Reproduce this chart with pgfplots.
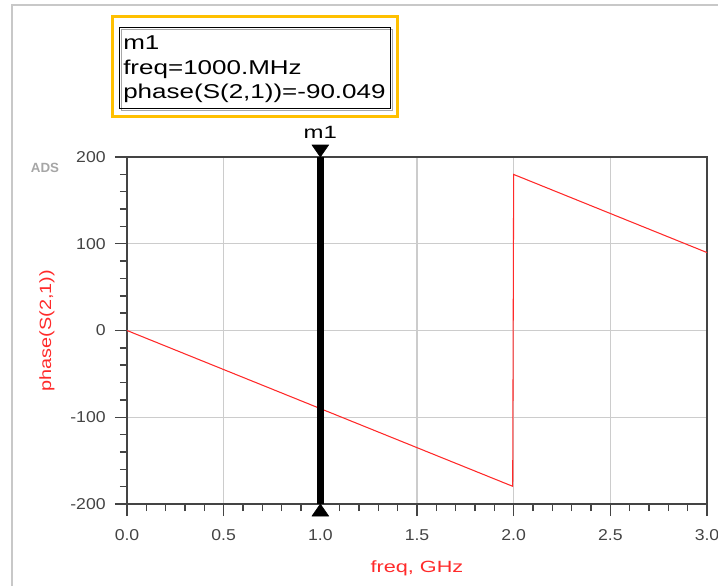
\documentclass[border=0pt]{standalone}
\usepackage{fontspec}
\setmainfont{Liberation Sans}
\usepackage{graphicx}
\usepackage{pgfplots}
\pgfplotsset{compat=1.18}
\definecolor{tickgray}{HTML}{444444}
\definecolor{gridgray}{HTML}{CCCCCC}
\definecolor{adsred}{HTML}{FF2A2A}
\definecolor{boxorange}{HTML}{FFC000}
\definecolor{framegray}{HTML}{C8C8C8}
\newcommand\tl[1]{\scalebox{1.12}[1]{#1}}
\newcommand\sx[1]{\scalebox{1.3}[1]{#1}}
\begin{document}
\begin{tikzpicture}[x=0.75pt,y=0.75pt]
\path[use as bounding box] (0,0) rectangle (718,586);
\draw[framegray, line width=1pt] (12,0) -- (12,581) -- (718,581);
% marker box
\draw[boxorange, line width=2.25pt] (112.7,569.3) rectangle (397.7,469.3);
\draw[gray!70, line width=0.75pt] (121.3,556.7) rectangle (392.7,475.3);
\draw[black, line width=0.8pt] (119.3,558.7) rectangle (390.7,477.3);
\node[anchor=base west, inner sep=0pt, font=\fontsize{15}{18}\selectfont] at (123,536) {\sx{m1}};
\node[anchor=base west, inner sep=0pt, font=\fontsize{15}{18}\selectfont] at (123,511) {\sx{freq=1000.MHz}};
\node[anchor=base west, inner sep=0pt, font=\fontsize{15}{18}\selectfont] at (123,487) {\sx{phase(S(2,1))=-90.049}};
\node[anchor=center, inner sep=0pt, text=black!35, font=\bfseries\fontsize{10}{12}\selectfont] at (45,418) {ADS};
\begin{axis}[
  at={(95.25pt,61.5pt)}, anchor=south west,
  scale only axis, width=435pt, height=260.25pt,
  xmin=0, xmax=3, ymin=-200, ymax=200,
  xtick={0,0.5,1,1.5,2,2.5,3},
  xticklabels={\tl{0.0},\tl{0.5},\tl{1.0},\tl{1.5},\tl{2.0},\tl{2.5},\tl{3.0}},
  ytick={-200,-100,0,100,200},
  yticklabels={\tl{-200},\tl{-100},\tl{0},\tl{100},\tl{200}},
  minor x tick num=4, minor y tick num=4,
  tick align=outside, xtick pos=bottom, ytick pos=left,
  major tick length=9pt, minor tick length=5.25pt,
  tick style={tickgray, line width=1.1pt},
  axis line style={tickgray, line width=1.1pt},
  grid=major, major grid style={gridgray, line width=0.8pt},
  tick label style={text=tickgray, font=\fontsize{11.8}{14}\selectfont},
  xticklabel style={yshift=-6.5pt},
  yticklabel style={xshift=-3.5pt},
  xlabel={\scalebox{1.33}[1]{freq, GHz}},
  ylabel={\scalebox{1.22}[1]{phase(S(2,1))}},
  every axis x label/.style={at={(axis description cs:0.5,-0.184)}, anchor=center, text=adsred, font=\fontsize{12.2}{14}\selectfont},
  every axis y label/.style={at={(axis description cs:-0.138,0.5)}, rotate=90, anchor=center, text=adsred, font=\fontsize{12.2}{14}\selectfont},
  clip=false,
]
\addplot[adsred, line width=0.8pt] coordinates {(0,0) (1.995,-179.6) (2.0,179.9) (3.0,89.85)};
\addplot[black, line width=5.25pt] coordinates {(1,-200) (1,200)};
\addplot[only marks, mark=triangle*, mark size=6pt, black, mark options={rotate=180, xscale=1.2, yshift=-6pt}] coordinates {(1,200)};
\addplot[only marks, mark=triangle*, mark size=6pt, black, mark options={xscale=1.2, yshift=-6pt}] coordinates {(1,-200)};
\node[anchor=base, inner sep=0pt, yshift=14.25pt, font=\fontsize{13.3}{16}\selectfont] at (axis cs:1,200) {\scalebox{1.35}[1]{m1}};
\end{axis}
\end{tikzpicture}
\end{document}
